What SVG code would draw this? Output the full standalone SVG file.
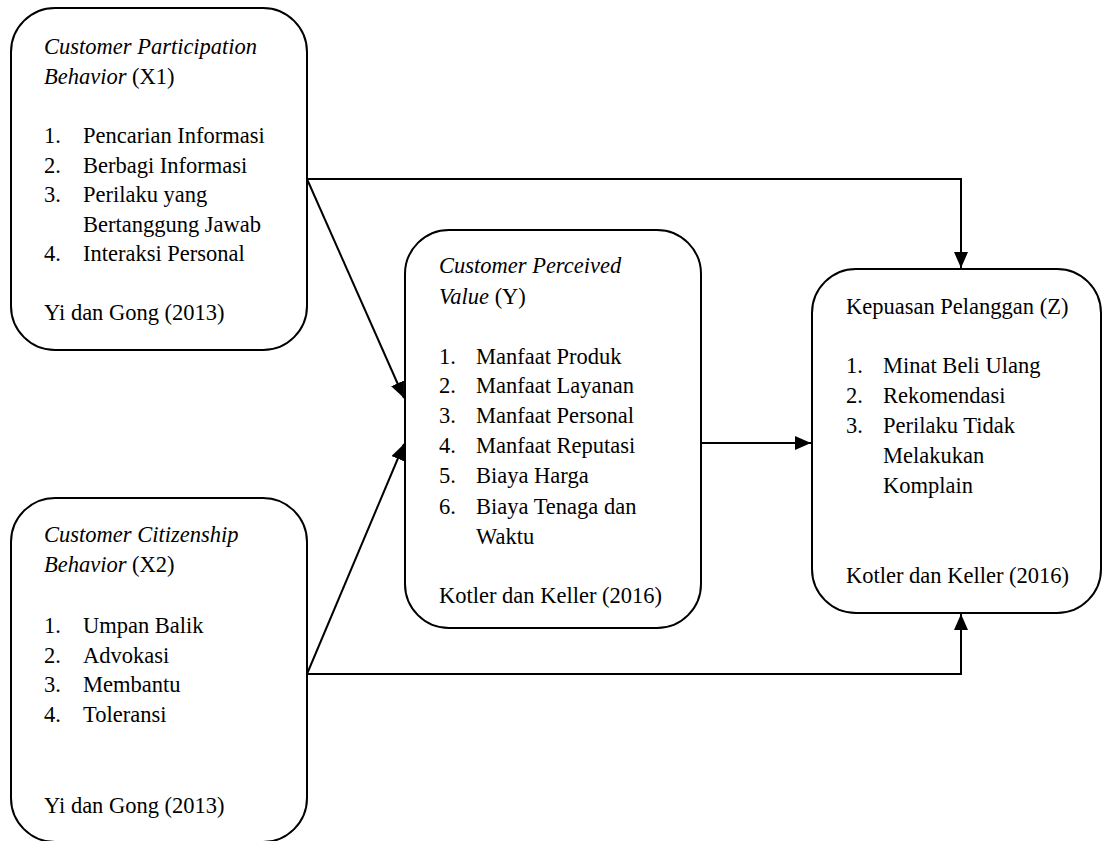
<svg xmlns="http://www.w3.org/2000/svg" width="1103" height="841" viewBox="0 0 1103 841">
<style>
.box{fill:#fff;stroke:#000;stroke-width:2}
.it{font-style:italic}
.conn{stroke:#000;stroke-width:2;fill:none}
</style>
<defs>
<marker id="ah" markerUnits="userSpaceOnUse" markerWidth="16" markerHeight="14" refX="16" refY="7" orient="auto">
<path d="M0,0 L16,7 L0,14 z" fill="#000"/>
</marker>
</defs>
<rect width="1103" height="841" fill="#fff"/>
<g id="connectors">
<polyline class="conn" points="307,179 961,179 961,268" marker-end="url(#ah)"/>
<line class="conn" x1="307" y1="179" x2="404" y2="398" marker-end="url(#ah)"/>
<line class="conn" x1="307" y1="674" x2="404" y2="444" marker-end="url(#ah)"/>
<polyline class="conn" points="307,674 961,674 961,614" marker-end="url(#ah)"/>
<line class="conn" x1="701" y1="443" x2="811" y2="443" marker-end="url(#ah)"/>
</g>
<g font-family="Liberation Serif" font-size="22.5" fill="#000">
<g id="x1">
<rect class="box" x="11" y="8" width="296" height="342" rx="44"/>
<text x="44" y="54"><tspan class="it">Customer Participation</tspan></text>
<text x="44" y="84"><tspan class="it">Behavior</tspan> (X1)</text>
<text x="44" y="143">1.</text><text x="83" y="143">Pencarian Informasi</text>
<text x="44" y="173">2.</text><text x="83" y="173">Berbagi Informasi</text>
<text x="44" y="202">3.</text><text x="83" y="202">Perilaku yang</text>
<text x="83" y="232">Bertanggung Jawab</text>
<text x="44" y="261">4.</text><text x="83" y="261">Interaksi Personal</text>
<text x="44" y="320">Yi dan Gong (2013)</text>
</g>
<g id="x2">
<rect class="box" x="11" y="498" width="296" height="344" rx="44"/>
<text x="44" y="542"><tspan class="it">Customer Citizenship</tspan></text>
<text x="44" y="572"><tspan class="it">Behavior</tspan> (X2)</text>
<text x="44" y="633">1.</text><text x="83" y="633">Umpan Balik</text>
<text x="44" y="663">2.</text><text x="83" y="663">Advokasi</text>
<text x="44" y="692">3.</text><text x="83" y="692">Membantu</text>
<text x="44" y="722">4.</text><text x="83" y="722">Toleransi</text>
<text x="44" y="813">Yi dan Gong (2013)</text>
</g>
<g id="y">
<rect class="box" x="405" y="230" width="296" height="398" rx="44"/>
<text x="439" y="273"><tspan class="it">Customer Perceived</tspan></text>
<text x="439" y="304"><tspan class="it">Value</tspan> (Y)</text>
<text x="439" y="364">1.</text><text x="476" y="364">Manfaat Produk</text>
<text x="439" y="393">2.</text><text x="476" y="393">Manfaat Layanan</text>
<text x="439" y="423">3.</text><text x="476" y="423">Manfaat Personal</text>
<text x="439" y="453">4.</text><text x="476" y="453">Manfaat Reputasi</text>
<text x="439" y="483">5.</text><text x="476" y="483">Biaya Harga</text>
<text x="439" y="514">6.</text><text x="476" y="514">Biaya Tenaga dan</text>
<text x="476" y="544">Waktu</text>
<text x="439" y="603">Kotler dan Keller (2016)</text>
</g>
<g id="z">
<rect class="box" x="812" y="269" width="289" height="344" rx="44"/>
<text x="846" y="314">Kepuasan Pelanggan (Z)</text>
<text x="846" y="373">1.</text><text x="883" y="373">Minat Beli Ulang</text>
<text x="846" y="403">2.</text><text x="883" y="403">Rekomendasi</text>
<text x="846" y="433">3.</text><text x="883" y="433">Perilaku Tidak</text>
<text x="883" y="463">Melakukan</text>
<text x="883" y="493">Komplain</text>
<text x="846" y="583">Kotler dan Keller (2016)</text>
</g>
</g>
</svg>
